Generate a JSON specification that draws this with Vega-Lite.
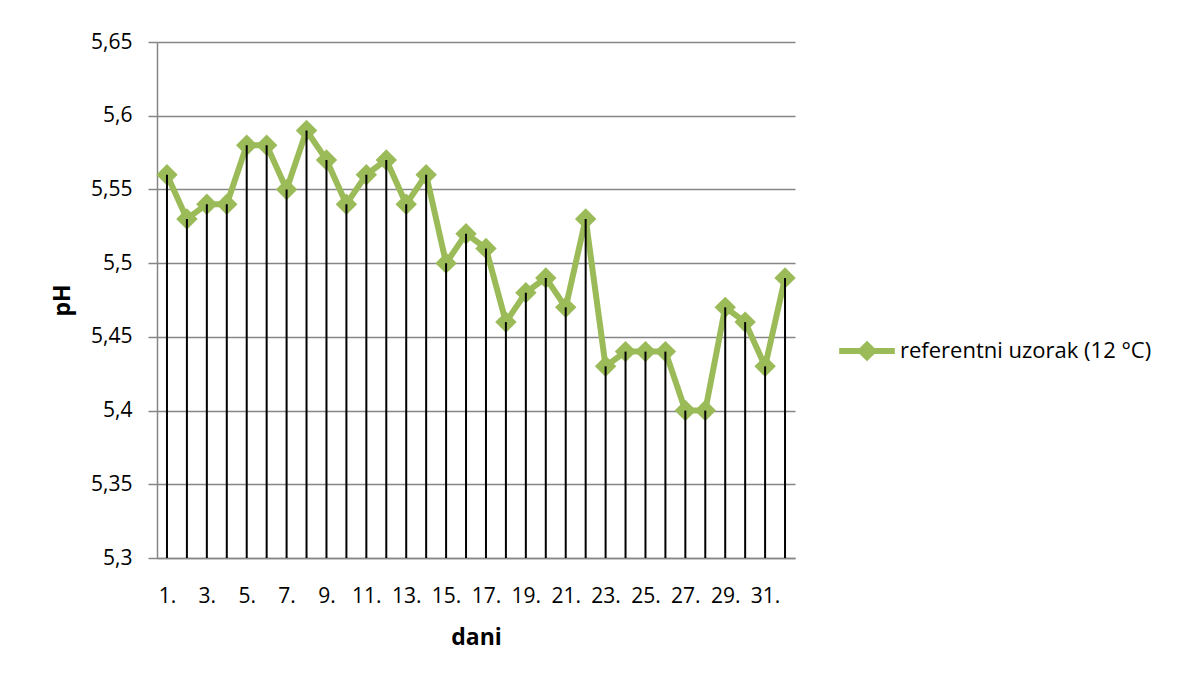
{
  "$schema": "https://vega.github.io/schema/vega-lite/v6.json",
  "autosize": {"type": "none"},
  "width": 638,
  "height": 516,
  "padding": {"left": 157, "top": 42, "right": 382, "bottom": 119},
  "background": "white",
  "config": {
    "font": "Open Sans",
    "view": {"stroke": null}
  },
  "data": {
    "values": [
      {"dan": "1.", "pH": 5.56, "serija": "referentni uzorak (12 °C)"},
      {"dan": "2.", "pH": 5.53, "serija": "referentni uzorak (12 °C)"},
      {"dan": "3.", "pH": 5.54, "serija": "referentni uzorak (12 °C)"},
      {"dan": "4.", "pH": 5.54, "serija": "referentni uzorak (12 °C)"},
      {"dan": "5.", "pH": 5.58, "serija": "referentni uzorak (12 °C)"},
      {"dan": "6.", "pH": 5.58, "serija": "referentni uzorak (12 °C)"},
      {"dan": "7.", "pH": 5.55, "serija": "referentni uzorak (12 °C)"},
      {"dan": "8.", "pH": 5.59, "serija": "referentni uzorak (12 °C)"},
      {"dan": "9.", "pH": 5.57, "serija": "referentni uzorak (12 °C)"},
      {"dan": "10.", "pH": 5.54, "serija": "referentni uzorak (12 °C)"},
      {"dan": "11.", "pH": 5.56, "serija": "referentni uzorak (12 °C)"},
      {"dan": "12.", "pH": 5.57, "serija": "referentni uzorak (12 °C)"},
      {"dan": "13.", "pH": 5.54, "serija": "referentni uzorak (12 °C)"},
      {"dan": "14.", "pH": 5.56, "serija": "referentni uzorak (12 °C)"},
      {"dan": "15.", "pH": 5.50, "serija": "referentni uzorak (12 °C)"},
      {"dan": "16.", "pH": 5.52, "serija": "referentni uzorak (12 °C)"},
      {"dan": "17.", "pH": 5.51, "serija": "referentni uzorak (12 °C)"},
      {"dan": "18.", "pH": 5.46, "serija": "referentni uzorak (12 °C)"},
      {"dan": "19.", "pH": 5.48, "serija": "referentni uzorak (12 °C)"},
      {"dan": "20.", "pH": 5.49, "serija": "referentni uzorak (12 °C)"},
      {"dan": "21.", "pH": 5.47, "serija": "referentni uzorak (12 °C)"},
      {"dan": "22.", "pH": 5.53, "serija": "referentni uzorak (12 °C)"},
      {"dan": "23.", "pH": 5.43, "serija": "referentni uzorak (12 °C)"},
      {"dan": "24.", "pH": 5.44, "serija": "referentni uzorak (12 °C)"},
      {"dan": "25.", "pH": 5.44, "serija": "referentni uzorak (12 °C)"},
      {"dan": "26.", "pH": 5.44, "serija": "referentni uzorak (12 °C)"},
      {"dan": "27.", "pH": 5.40, "serija": "referentni uzorak (12 °C)"},
      {"dan": "28.", "pH": 5.40, "serija": "referentni uzorak (12 °C)"},
      {"dan": "29.", "pH": 5.47, "serija": "referentni uzorak (12 °C)"},
      {"dan": "30.", "pH": 5.46, "serija": "referentni uzorak (12 °C)"},
      {"dan": "31.", "pH": 5.43, "serija": "referentni uzorak (12 °C)"},
      {"dan": "32.", "pH": 5.49, "serija": "referentni uzorak (12 °C)"}
    ]
  },
  "encoding": {
    "x": {
      "field": "dan",
      "type": "ordinal",
      "sort": null,
      "scale": {"type": "point", "padding": 0.5},
      "axis": {
        "title": "dani",
        "titleFontSize": 23,
        "titleFontWeight": "bold",
        "titleColor": "black",
        "titlePadding": 20,
        "values": ["1.", "3.", "5.", "7.", "9.", "11.", "13.", "15.", "17.", "19.", "21.", "23.", "25.", "27.", "29.", "31."],
        "labelAngle": 0,
        "labelFontSize": 21,
        "labelColor": "black",
        "labelPadding": 27,
        "labelDx": -3,
        "labelOverlap": false,
        "ticks": false,
        "domainColor": "#868686",
        "domainWidth": 1.5,
        "grid": false
      }
    },
    "y": {
      "field": "pH",
      "type": "quantitative",
      "scale": {"domain": [5.3, 5.65], "nice": false, "zero": false},
      "axis": {
        "title": "pH",
        "titleFontSize": 23,
        "titleFontWeight": "bold",
        "titleColor": "black",
        "titlePadding": 16,
        "values": [5.3, 5.35, 5.4, 5.45, 5.5, 5.55, 5.6, 5.65],
        "labelExpr": "replace(format(datum.value, '.2~f'), '.', ',')",
        "labelFontSize": 21,
        "labelColor": "black",
        "labelPadding": 16,
        "tickSize": 9,
        "tickColor": "#868686",
        "tickWidth": 1.5,
        "domainColor": "#868686",
        "domainWidth": 1.5,
        "grid": true,
        "gridColor": "#868686",
        "gridWidth": 1.5
      }
    }
  },
  "layer": [
    {
      "mark": {
        "type": "line",
        "strokeWidth": 6,
        "point": {"filled": true, "shape": "diamond", "size": 460}
      },
      "encoding": {
        "color": {
          "field": "serija",
          "type": "nominal",
          "scale": {"range": ["#9BBB59"]},
          "legend": {
            "title": null,
            "orient": "none",
            "legendX": 679,
            "legendY": 278,
            "labelFontSize": 22,
            "labelColor": "black",
            "labelLimit": 0,
            "labelOffset": 2,
            "symbolType": "M-1,0H1M0,-0.22L0.22,0L0,0.22L-0.22,0Z",
            "symbolSize": 3100,
            "symbolStrokeWidth": 6,
            "symbolFillColor": "#9BBB59",
            "symbolStrokeColor": "#9BBB59"
          }
        }
      }
    },
    {
      "mark": {"type": "rule", "color": "black", "strokeWidth": 2},
      "encoding": {
        "y2": {"datum": 5.3}
      }
    }
  ]
}
